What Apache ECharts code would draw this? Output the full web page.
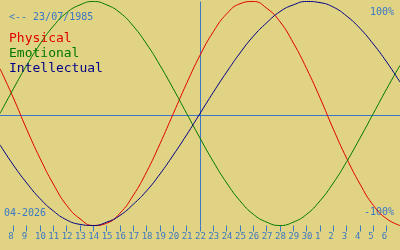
<!DOCTYPE html>
<html><head><meta charset="utf-8">
<script src="https://cdn.jsdelivr.net/npm/echarts@6/dist/echarts.min.js"></script>
<style>html,body{margin:0;padding:0;background:#e1d384}#c{width:400px;height:250px}</style>
</head><body><div id="c"></div>
<script>
// Days shown (April 7 .. May 7, 2026 as continuous day numbers)
const days = [7,8,9,10,11,12,13,14,15,16,17,18,19,20,21,22,23,24,25,26,27,28,29,30,31,32,33,34,35,36,37];
const tickDays = [8,9,10,11,12,13,14,15,16,17,18,19,20,21,22,23,24,25,26,27,28,29,30,31,32,33,34,35,36];
const tickLabels = ['8','9','10','11','12','13','14','15','16','17','18','19','20','21','22','23','24','25','26','27','28','29','30','1','2','3','4','5','6'];
const physical = [0.40,0.14,-0.14,-0.40,-0.63,-0.82,-0.94,-1.00,-0.98,-0.89,-0.73,-0.52,-0.27,0.00,0.27,0.52,0.73,0.89,0.98,1.00,0.94,0.82,0.63,0.40,0.14,-0.14,-0.40,-0.63,-0.82,-0.94,-1.00];
const emotional = [0.00,0.22,0.43,0.62,0.78,0.90,0.97,1.00,0.97,0.90,0.78,0.62,0.43,0.22,0.00,-0.22,-0.43,-0.62,-0.78,-0.90,-0.97,-1.00,-0.97,-0.90,-0.78,-0.62,-0.43,-0.22,0.00,0.22,0.43];
const intellectual = [-0.28,-0.46,-0.62,-0.76,-0.87,-0.95,-0.99,-1.00,-0.97,-0.91,-0.81,-0.69,-0.54,-0.37,-0.19,0.00,0.19,0.37,0.54,0.69,0.81,0.91,0.97,1.00,0.99,0.95,0.87,0.76,0.62,0.46,0.28];
const seriesNames = ['Physical','Emotional','Intellectual'];
const seriesColors = ['#e00000','#007800','#000088'];
const todayDay = 22;
const zeroLevel = -0.018;
const birthText = '<-- 23/07/1985';
const monthText = '04-2026';
const topText = '100%';
const bottomText = '-100%';

const FONT = 'DejaVu Sans Mono';
const BLUE = '#3a78c4';
const chart = echarts.init(document.getElementById('c'), null, {renderer:'canvas'});
const seriesData = [physical, emotional, intellectual];
const series = seriesData.map((vals, i) => ({
  name: seriesNames[i], type: 'line', smooth: true, showSymbol: false,
  xAxisIndex: 0, yAxisIndex: 0,
  data: days.map((d, j) => [d, vals[j]]),
  lineStyle: {width: 1, color: seriesColors[i]}, itemStyle: {color: seriesColors[i]},
  z: 3, animation: false
}));
series[0].markLine = {
  silent: true, symbol: 'none', animation: false,
  label: {show: false},
  lineStyle: {color: BLUE, width: 1, type: 'solid'},
  data: [{xAxis: todayDay}, {yAxis: zeroLevel}],
  z: 1
};
chart.setOption({
  backgroundColor: '#e1d384',
  animation: false,
  textStyle: {fontFamily: FONT},
  grid: {left: 0, right: 0, top: 1.5, bottom: 24.5},
  xAxis: [{
    type: 'value', min: 7, max: 37, interval: 1, position: 'bottom',
    axisLine: {show: false, onZero: false}, splitLine: {show: false},
    axisTick: {show: true, length: 6, customValues: tickDays, lineStyle: {color: BLUE, width: 1}},
    axisLabel: {show: false}
  }, {
    type: 'value', min: 7.375, max: 37.375, position: 'bottom',
    axisLine: {show: false, onZero: false}, splitLine: {show: false}, axisTick: {show: false},
    axisLabel: {show: true, customValues: tickDays, align: 'left', margin: 7,
      color: BLUE, fontFamily: FONT, fontSize: 9,
      formatter: v => tickLabels[tickDays.indexOf(v)]}
  }],
  yAxis: {type: 'value', min: -1, max: 1, show: false},
  legend: {
    orient: 'vertical', left: 4, top: 32.5, padding: 0, itemGap: 2,
    itemWidth: 0, itemHeight: 13, icon: 'none', selectedMode: false,
    data: seriesNames.map((n, i) => ({name: n, textStyle: {color: seriesColors[i]}})),
    textStyle: {fontFamily: FONT, fontSize: 13}
  },
  graphic: [
    {type: 'text', left: 9, top: 12, style: {text: birthText, fill: BLUE, font: '10px ' + FONT}},
    {type: 'text', right: 6, top: 7, style: {text: topText, fill: BLUE, font: '10px ' + FONT}},
    {type: 'text', right: 6, top: 207, style: {text: bottomText, fill: BLUE, font: '10px ' + FONT}},
    {type: 'text', left: 4, top: 208, style: {text: monthText, fill: BLUE, font: '10px ' + FONT}}
  ],
  series: series
});
</script></body></html>
